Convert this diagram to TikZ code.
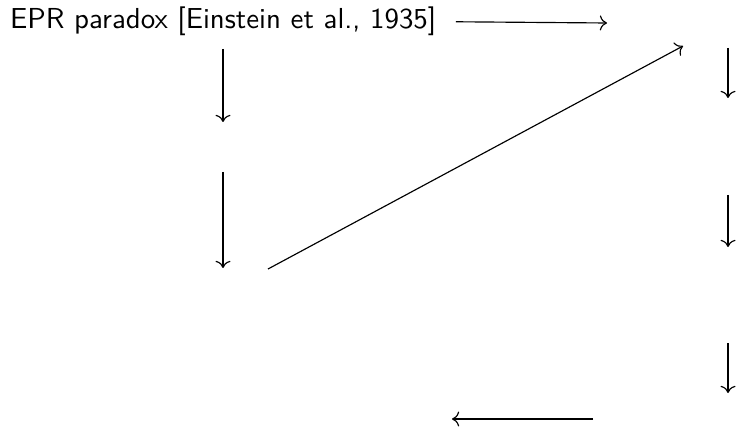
\documentclass[tikz,border=0pt]{standalone}
\usetikzlibrary{arrows.meta}

\begin{document}
\begin{tikzpicture}[x=0.346pt, y=-0.346pt,
  cdarrow/.style={-{Computer Modern Rightarrow}, line width=0.4pt},
  every node/.style={font=\sffamily, inner sep=0pt}]

% Riquadro della figura
\useasboundingbox (0,0) rectangle (737,426);

% Nodo di partenza
\node[anchor=base west] (epr) at (9.5,29) {EPR paradox [Einstein et al., 1935]};

% Estremi delle frecce
\coordinate (topEnd) at (607,23);
\coordinate (leftA) at (223,49);
\coordinate (leftB) at (223,122);
\coordinate (leftC) at (223,172);
\coordinate (leftD) at (223,268);
\coordinate (diagA) at (268,269);
\coordinate (diagB) at (683,46);
\coordinate (rightA) at (728,48);
\coordinate (rightB) at (728,98);
\coordinate (rightC) at (728,195);
\coordinate (rightD) at (728,247);
\coordinate (rightE) at (728,343);
\coordinate (rightF) at (728,393);
\coordinate (botA) at (593,419);
\coordinate (botB) at (452,419);

% Frecce
\draw[cdarrow] ([xshift=6.6pt]epr.east) -- (topEnd);
\draw[cdarrow] (leftA) -- (leftB);
\draw[cdarrow] (leftC) -- (leftD);
\draw[cdarrow] (diagA) -- (diagB);
\draw[cdarrow] (rightA) -- (rightB);
\draw[cdarrow] (rightC) -- (rightD);
\draw[cdarrow] (rightE) -- (rightF);
\draw[cdarrow] (botA) -- (botB);

\end{tikzpicture}
\end{document}
